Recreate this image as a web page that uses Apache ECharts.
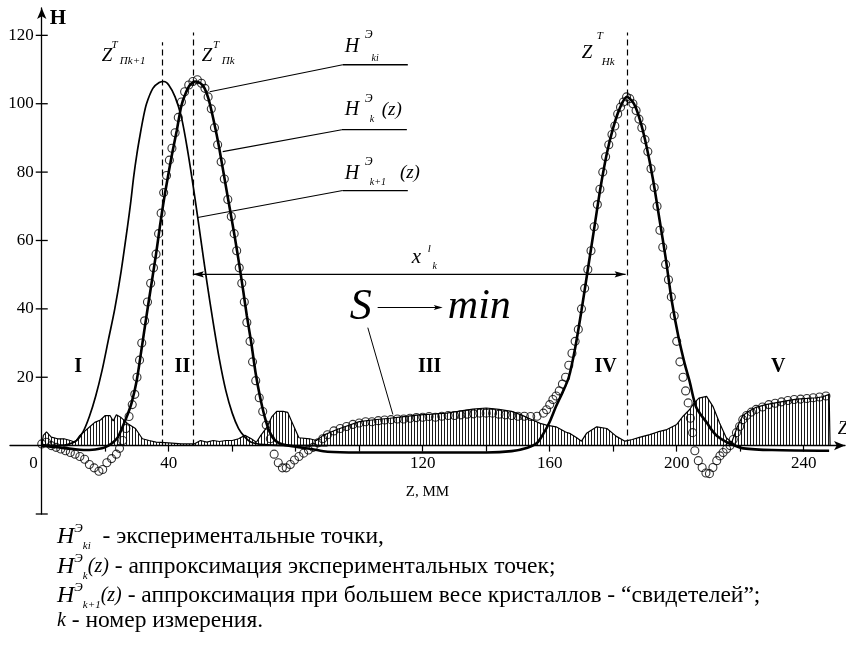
<!DOCTYPE html>
<html><head><meta charset="utf-8">
<script src="https://cdn.jsdelivr.net/npm/echarts@6/dist/echarts.min.js"></script>
<style>html,body{margin:0;padding:0;background:#fff}#c{width:846px;height:649px}</style>
</head><body><div id="c"></div>
<script>
// ---- axis ticks / labels ----
const zTicks = [20,40,60,80,100,120,140,160,180,200,220,240];
const zLabels = [0,40,120,160,200,240];
const hTicks = [-20,20,40,60,80,100,120];
const hLabels = [20,40,60,80,100,120];

// ---- H^Э_ki : experimental points [z, H] ----
const expPoints = [[0,0.5],[1.5,1],[3,0],[4.5,-0.5],[6,-1],[7.5,-1.5],[9,-2],[10.5,-2.5],[12,-3.2],[13.5,-4],[15,-5.5],[16.5,-6.5],[18,-7.5],[19.2,-7],[20.5,-5],[22,-3.8],[23.5,-2.5],[24.5,-0.8],[25.5,1.5],[26.5,5],[27.5,8.5],[28.5,12],[29.3,15],[30,20],[30.8,25],[31.5,30],[32.4,36.5],[33.3,42],[34.3,47.5],[35.2,52],[36,56],[36.8,62],[37.6,68],[38.4,74],[39.3,79],[40.2,83.5],[41,87],[42,91.5],[43,96],[44,100.5],[45,103.5],[46.3,105.5],[47.6,106.5],[49,107],[50.3,106],[51.4,104.5],[52.4,102],[53.4,98.5],[54.4,93],[55.4,88],[56.5,83],[57.5,78],[58.6,72],[59.7,67],[60.6,62],[61.4,57],[62.2,52],[63,47.5],[63.8,42],[64.6,36],[65.6,30.5],[66.4,24.5],[67.4,19],[68.5,14],[69.6,10],[70.7,6],[72,2],[73.2,-2.5],[74.5,-5],[75.8,-6.5],[77,-6.5],[78.3,-5.5],[79.6,-4.2],[81,-3.2],[82.5,-2.2],[84,-1.3],[85.5,-0.5],[87,0.8],[88.5,2],[90,3.2],[92,4.3],[94,5],[96,5.6],[98,6.2],[100,6.6],[102,7],[104,7],[106,7.3],[108,7.5],[110,7.6],[112,7.8],[114,7.8],[116,8],[118,8.2],[120,8.3],[122,8.5],[124,8.3],[126,8.6],[128,8.8],[130,8.8],[132,9],[134,9.2],[136,9.3],[138,9.5],[140,9.5],[142,9.5],[144,9.2],[146,9],[148,8.8],[150,8.6],[152,8.6],[154,8.5],[156,8.6],[158,9.5],[159,10.5],[160,12],[161,13.5],[162,14.5],[163,16],[164,18],[165,20],[166,23.5],[167,27],[168,30.5],[169,34],[170,40],[171,46],[172,51.5],[173,57],[174,64],[175,70.5],[175.8,75],[176.7,80],[177.6,84.5],[178.6,88],[179.6,91],[180.5,93.5],[181.4,97],[182.3,99],[183.2,100.5],[184.2,102],[185.2,101.5],[186.2,100],[187.2,98],[188.1,95.5],[189,93],[190,89.5],[190.9,86],[191.9,81],[192.9,75.5],[193.8,70],[194.7,63],[195.6,58],[196.5,53],[197.4,48.5],[198.3,43.5],[199.2,38],[200,30.5],[201,24.5],[202,20],[202.8,16],[203.6,12.5],[204.3,8],[205,3.8],[205.7,-1.5],[206.8,-4.4],[208,-6.4],[209.2,-8],[210.3,-8.2],[211.4,-6.4],[212.6,-4.4],[213.6,-3],[214.6,-2],[215.7,-1],[216.8,0],[217.8,1.8],[218.8,3.8],[219.8,5.6],[220.8,7.6],[222,8.8],[223.5,9.8],[225,10.6],[227,11.3],[229,12],[231,12.4],[233,12.8],[235,13.2],[237,13.5],[239,13.6],[241,13.8],[243,14],[245,14.2],[247,14.5]];

// ---- H^Э_k(z) : approximation ----
const approxK = [[0,0],[5,-0.5],[10,-1],[15,-1.3],[19,-0.8],[21,0],[22.5,1],[24,2.5],[25.6,5.8],[27,9],[28.3,12.5],[29.9,19],[31.4,28],[33,38],[34.5,47],[36,56],[37.2,64],[38.5,72],[40,80],[41.2,86],[42.5,92],[44,99.5],[45.3,103],[46.7,105.5],[48.3,106.5],[50,106],[51.3,104.5],[52.5,101.5],[53.7,97],[55.5,89],[57.5,78.5],[59,70.5],[60.8,61],[62.2,53],[63.5,45],[64.6,38],[66,30],[67.4,21],[68.7,14.5],[70.2,8.5],[71.8,4],[73.5,1.5],[76,0.3],[80,-0.3],[85,-1],[90,-1.8],[100,-2],[120,-2],[140,-2],[148,-1.6],[153,-0.6],[156,0.8],[158,3.5],[160,7],[162,11.5],[164,15.5],[166,20],[168,28.5],[170,39.5],[172,51.5],[174,63.5],[176,75.5],[178,85.5],[180,93],[182,98.5],[184.3,102],[186.5,100],[188.5,95],[190.5,87.5],[192.5,78],[194.6,66],[196.5,55],[198.5,42],[200.5,32],[202.5,24],[204,19],[206,11.5],[208,8.5],[209.5,6.7],[211,4.6],[212.6,2.9],[215.7,1],[218,0.1],[221,-0.8],[230,-1.3],[248,-1.5]];

// ---- H^Э_k+1(z) : approximation with larger weight of witness crystals ----
const approxK1 = [[0,0.3],[4,0],[8,0.3],[11,1.5],[13,4],[15,8.5],[17,14.5],[19,22],[21,31],[23,40],[25,51],[27,64],[28,71],[29,79],[30,85.5],[31,91],[32,96],[33,100],[35,104.5],[37,106.2],[38.5,106.5],[40,105.5],[42,102],[44,96],[46,86],[48,74],[50,61],[52,48],[54,36],[56,25],[58,16],[60,9.5],[62,5],[64,2.5],[66,1],[70,0.3],[80,0],[90,0]];

// ---- hatched residual S ----
const residual = [[0,0],[0.5,3],[1.5,4],[3,2.5],[5,2],[7,2],[9,1.5],[10.5,1],[12,3],[14.5,5],[16.7,6.8],[18.5,7.5],[20,8.8],[21.5,8.8],[22.5,7.2],[23.5,9],[25,8.2],[27,6.5],[29.5,5],[31.7,2],[33.8,1.5],[36,1],[40,0.8],[44,0.5],[48,0.5],[50,1.5],[52,1],[54,1.5],[56,1.2],[58,1.5],[60,1.5],[62,2],[64,3],[66,2],[67.6,1],[69,3],[71,5.5],[72.5,8.5],[74,10],[76,10],[77.5,9.7],[79,6.5],[81,2.3],[84.4,2],[86.5,1.5],[88.6,3],[93,4.7],[100,7],[104,7.5],[109.6,8],[114,8.5],[119,9],[123,9.2],[127.5,9.5],[131,10],[135.8,10.7],[140,11],[144,10.6],[148,10],[151,9],[154.6,7.5],[157,6.5],[159,6],[162,5.5],[165,4],[166.5,3.5],[168.5,2.3],[170,1.3],[171.6,3.6],[174.8,5.5],[178,5],[181,2.7],[183.7,1.3],[186,1.8],[188.5,2.5],[191.5,3.2],[194,4],[196.9,4.7],[200,6.2],[202,8.6],[204,10.5],[205.5,12.5],[207,13.9],[209.4,14.4],[211.4,11.5],[213.5,6.6],[215.6,2.3],[217.3,0.9],[219,5.3],[220.8,8.8],[223,10.2],[225,11.2],[228,12],[231.5,12.6],[234.5,13.1],[237.8,13.6],[241,13.8],[244,14],[246,14.3],[248,15],[248.3,0]];

// ---- characteristic positions ----
const peakZ = [38.1, 47.6, 184.3];      // z^T_Пk+1, z^T_Пk, z^T_Hk
const peakTop = [118, 120.8, 120.8];
const xArrowH = 50.1;                   // level of x'_k arrow

const SERIF = '"Liberation Serif","DejaVu Serif",serif';
const chart = echarts.init(document.getElementById('c'), null, {renderer:'canvas'});

// vertical hatch pattern
const pat = document.createElement('canvas');
pat.width = 3; pat.height = 4;
const pc = pat.getContext('2d');
pc.fillStyle = 'rgba(0,0,0,0.9)';
pc.fillRect(0,0,1,4);

chart.setOption({
  animation:false,
  backgroundColor:'#fff',
  grid:{left:10, top:8, width:835, height:506, outerBoundsMode:'none', containLabel:false},
  xAxis:{
    type:'value', min:-10, max:253,
    axisLine:{onZero:true, lineStyle:{color:'#000', width:1.3}, symbol:['none','arrow'], symbolSize:[7,11]},
    axisTick:{customValues:zTicks, length:6, lineStyle:{color:'#000', width:1.2}},
    axisLabel:{show:false},
    splitLine:{show:false}
  },
  yAxis:{
    type:'value', min:-20, max:128,
    axisLine:{onZero:true, lineStyle:{color:'#000', width:1.3}, symbol:['none','arrow'], symbolSize:[7,11]},
    axisTick:{show:false},
    axisLabel:{show:false},
    splitLine:{show:false}
  },
  series:[
    {
      name:'S', type:'line', data:residual, symbol:'none', z:1,
      lineStyle:{color:'#000', width:1.2},
      areaStyle:{origin:0, color:{image:pat, repeat:'repeat'}, opacity:1},
      markLine:{
        silent:true, symbol:'none', animation:false,
        label:{show:false},
        lineStyle:{color:'#000', type:[6,4], width:1.2},
        data: peakZ.map((z,i)=>[{coord:[z,0]},{coord:[z,peakTop[i]]}])
      }
    },
    {
      name:'H_k+1', type:'line', data:approxK1, symbol:'none', smooth:0.3, z:2,
      lineStyle:{color:'#000', width:1.7}
    },
    {
      name:'H_k', type:'line', data:approxK, symbol:'none', smooth:0.3, z:3,
      lineStyle:{color:'#000', width:2.6}
    },
    {
      name:'H_ki', type:'scatter', data:expPoints, symbol:'circle', symbolSize:8, z:4,
      itemStyle:{color:'rgba(255,255,255,0)', borderColor:'#000', borderWidth:1.1}
    }
  ]
});

const P = (z,h) => chart.convertToPixel({gridIndex:0}, [z,h]);
const g = [];
function txt(z,h,text,size,opt){
  const p = P(z,h);
  g.push({type:'text', x:p[0], y:p[1], z:100, style:Object.assign({
    text:text, fill:'#000', fontFamily:SERIF, fontSize:size, fontStyle:'italic',
    align:'left', verticalAlign:'middle'}, opt||{})});
}
function seg(a,b,w,opt){
  const p1 = P(a[0],a[1]), p2 = P(b[0],b[1]);
  g.push({type:'line', z:100, shape:{x1:p1[0],y1:p1[1],x2:p2[0],y2:p2[1]},
    style:Object.assign({stroke:'#000', lineWidth:w||1}, opt||{})});
}
function arrowHead(tip, from, len, wid){
  const t = P(tip[0],tip[1]), f = P(from[0],from[1]);
  const dx = t[0]-f[0], dy = t[1]-f[1], L = Math.hypot(dx,dy), ux = dx/L, uy = dy/L;
  const bx = t[0]-ux*len, by = t[1]-uy*len;
  g.push({type:'polygon', z:101, shape:{points:[[t[0],t[1]],[bx-uy*wid,by+ux*wid],[bx+ux*2,by+uy*2],[bx+uy*wid,by-ux*wid]]},
    style:{fill:'#000'}});
}

// y axis ticks (crossing the axis) and labels
hTicks.forEach(h=>{
  const p = P(0,h);
  g.push({type:'line', z:100, shape:{x1:p[0]-6,y1:p[1],x2:p[0]+6,y2:p[1]}, style:{stroke:'#000', lineWidth:1.3}});
});
hLabels.forEach(h=>{
  const p = P(0,h);
  g.push({type:'text', x:p[0]-8, y:p[1], z:100, style:{text:String(h), fill:'#000', fontFamily:SERIF, fontSize:17, align:'right', verticalAlign:'middle'}});
});
// x axis labels
zLabels.forEach(z=>{
  const p = P(z,0);
  const isZero = z===0;
  g.push({type:'text', x:isZero ? p[0]-4 : p[0], y:p[1]+9, z:100, style:{text:String(z), fill:'#000', fontFamily:SERIF, fontSize:17, align:isZero?'right':'center', verticalAlign:'top'}});
});
{
  const p = P(121.5,0);
  g.push({type:'text', x:p[0], y:p[1]+46, z:100, style:{text:'Z, ММ', fill:'#000', fontFamily:SERIF, fontSize:15, align:'center', verticalAlign:'middle'}});
}

// peak position labels
txt(18.9,114,'Z',19); txt(22.0,117,'T',11); txt(24.6,112.4,'Пk+1',11);
txt(50.4,114,'Z',19); txt(53.9,117,'T',11); txt(56.7,112.4,'Пk',11);
txt(170.1,114.9,'Z',19); txt(174.8,119.9,'T',11); txt(176.4,112.2,'Hk',11);

// series labels with leaders
txt(95.4,116.8,'H',20); txt(101.7,120.2,'Э',12); txt(103.9,113.3,'ki',10);
seg([52.9,103.5],[94.8,111.4],1.1); seg([94.8,111.4],[115.3,111.4],1.3);
txt(95.4,98.2,'H',20); txt(101.7,101.5,'Э',12); txt(103.3,95.3,'k',10); txt(107.1,98.2,'(z)',19);
seg([57.0,86.0],[94.5,92.4],1.1); seg([94.5,92.4],[115.0,92.4],1.3);
txt(95.4,79.4,'H',20); txt(101.7,83.0,'Э',12); txt(103.3,77.0,'k+1',10); txt(112.8,79.7,'(z)',19);
seg([49.1,66.7],[94.8,74.6],1.1); seg([94.8,74.6],[115.3,74.6],1.3);

// x'_k distance arrow
seg([peakZ[1],xArrowH],[peakZ[2]-0.4,xArrowH],1.1);
arrowHead([peakZ[1],xArrowH],[peakZ[1]+5,xArrowH],11,3.2);
arrowHead([peakZ[2]-0.4,xArrowH],[peakZ[2]-5,xArrowH],11,3.2);
txt(116.5,55.1,'x',21); txt(121.6,57.4,'l',11); txt(123.1,52.3,'k',10);

// S -> min
txt(97.0,40.3,'S',44);
seg([105.8,40.4],[125.0,40.4],1.1);
arrowHead([126.3,40.4],[120,40.4],9,2.6);
txt(127.9,40.6,'min',42);
seg([102.7,34.5],[110.6,9.1],1);

// region numerals
[['I',11.5],['II',44.3],['III',122.2],['IV',177.6],['V',232.0]].forEach(r=>{
  txt(r[1],23,r[0],20,{fontStyle:'normal', fontWeight:'bold', align:'center'});
});

// axis names
txt(2.5,125,'H',21,{fontStyle:'normal', fontWeight:'bold'});
txt(250.7,4.7,'Z',18);

// explanation block below the chart
const rich = {
  H:{fontFamily:SERIF, fontStyle:'italic', fontSize:24, lineHeight:30, verticalAlign:'middle', fill:'#000'},
  sup:{fontFamily:SERIF, fontStyle:'italic', fontSize:13, lineHeight:12, verticalAlign:'top', fill:'#000'},
  sub:{fontFamily:SERIF, fontStyle:'italic', fontSize:11, lineHeight:10, verticalAlign:'bottom', fill:'#000'},
  i:{fontFamily:SERIF, fontStyle:'italic', fontSize:20, lineHeight:30, verticalAlign:'middle', fill:'#000'},
  t:{fontFamily:SERIF, fontSize:23.5, lineHeight:30, verticalAlign:'middle', fill:'#000'}
};
const notes = [
  ['{H|H}{sup|Э}{sub|ki}{t|  - экспериментальные точки,}', 537],
  ['{H|H}{sup|Э}{sub|k}{i|(z)}{t| - аппроксимация экспериментальных точек;}', 567],
  ['{H|H}{sup|Э}{sub|k+1}{i|(z)}{t| - аппроксимация при большем весе кристаллов - “свидетелей”;}', 596],
  ['{i|k}{t| - номер измерения.}', 621]
];
notes.forEach(n=>{
  g.push({type:'text', x:57, y:n[1], z:100, style:{text:n[0], rich:rich, align:'left', verticalAlign:'middle', fill:'#000', fontFamily:SERIF, fontSize:23.5}});
});

chart.setOption({graphic:g});
</script></body></html>
